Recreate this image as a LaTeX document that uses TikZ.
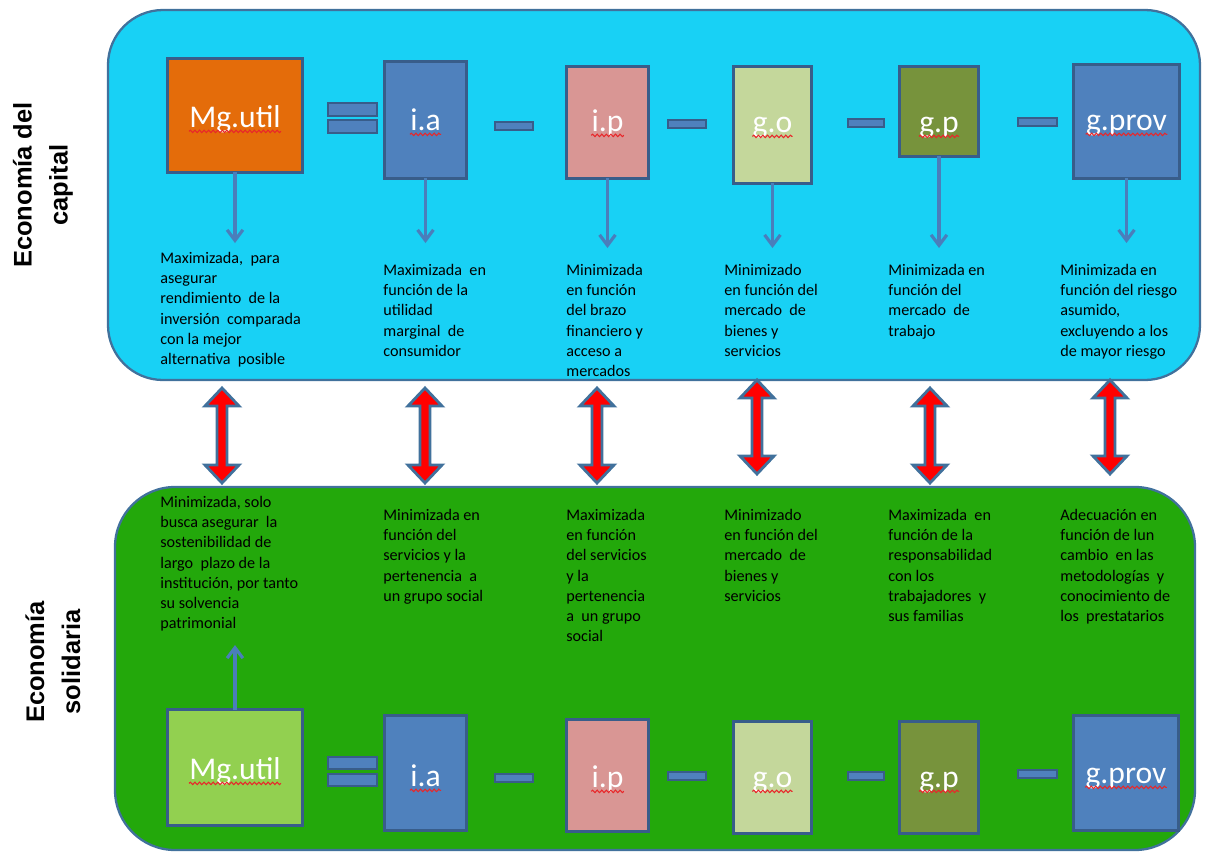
\documentclass[tikz,border=0pt]{standalone}
\usepackage{fontspec}
\setmainfont{Carlito}
\newfontfamily\sidefont{Liberation Sans}
\usetikzlibrary{arrows.meta,decorations.pathmorphing}

\definecolor{capfill}{HTML}{18D1F5}
\definecolor{solfill}{HTML}{23A80B}
\definecolor{panelline}{HTML}{41719C}
\definecolor{boxline}{HTML}{385D8A}
\definecolor{blueb}{HTML}{4F81BD}
\definecolor{orangeb}{HTML}{E46C0A}
\definecolor{pinkb}{HTML}{D99694}
\definecolor{paleb}{HTML}{C4D79B}
\definecolor{oliveb}{HTML}{77933C}
\definecolor{limeb}{HTML}{92D050}
\definecolor{connc}{HTML}{4A7EBB}
\definecolor{squigc}{HTML}{E8272A}

% two-headed red arrow between the panels: x, top y, bottom y
\newcommand\twoway[3]{%
  \draw[redarrow] (#1-5,#2+18) -- (#1-17,#2+18) -- (#1,#2) -- (#1+17,#2+18)
    -- (#1+5,#2+18) -- (#1+5,#3-18) -- (#1+17,#3-18) -- (#1,#3)
    -- (#1-17,#3-18) -- (#1-5,#3-18) -- cycle;}

\tikzset{
  panel/.style={draw=panelline, line width=1.3pt},
  box/.style={draw=boxline, line width=1.7pt, inner sep=0pt, outer sep=0pt},
  bar/.style={draw=boxline, fill=blueb, line width=1.2pt},
  lbl/.style={text=white, font=\fontsize{18}{20}\selectfont, inner sep=0pt, anchor=base},
  note/.style={align=left, anchor=north west, inner sep=0pt,
               font=\fontsize{9.2}{11.5}\selectfont},
  conn/.style={draw=connc, line width=1.8pt, -{Straight Barb[length=6pt,width=9pt]}},
  squig/.style={draw=squigc, line width=0.6pt, decorate,
                decoration={snake, amplitude=0.7pt, segment length=2.6pt}},
  redarrow/.style={fill=red, draw=panelline, line width=1.6pt, line join=miter},
  side/.style={font=\sidefont\bfseries\fontsize{14.5}{20.5}\selectfont,
               align=center, rotate=90, inner sep=0pt},
}

\begin{document}
\begin{tikzpicture}[x=0.02cm, y=-0.02cm]
\useasboundingbox (0,0) rectangle (1205,853);

% panels
\draw[panel, fill=capfill, rounded corners=1.1cm] (108,10) rectangle (1200,380);
\draw[panel, fill=solfill, rounded corners=1.2cm] (115,487) rectangle (1195,850);

% side titles
\node[side] (capL) at (43,185) {Economía del\\capital};
\node[side] (solL) at (53,662) {Economía\\solidaria};

% ---------------- upper row ----------------
\node[box, fill=orangeb, minimum width=2.7cm,  minimum height=2.28cm] (mgT) at (235,115.5) {};
\node[box, fill=blueb,   minimum width=1.64cm, minimum height=2.34cm] (iaT) at (425.5,120) {};
\node[box, fill=pinkb,   minimum width=1.64cm, minimum height=2.24cm] (ipT) at (607.5,122.5) {};
\node[box, fill=paleb,   minimum width=1.56cm, minimum height=2.34cm] (goT) at (772.5,125) {};
\node[box, fill=oliveb,  minimum width=1.58cm, minimum height=1.8cm]  (gpT) at (939,111.5) {};
\node[box, fill=blueb,   minimum width=2.12cm, minimum height=2.28cm] (gvT) at (1126.5,121.5) {};

\node[lbl] (mgTl) at (235,127) {Mg.util};
\node[lbl] (iaTl) at (425.5,130) {i.a};
\node[lbl] (ipTl) at (607.5,131) {i.p};
\node[lbl] (goTl) at (772.5,132) {g.o};
\node[lbl] (gpTl) at (939,132) {g.p};
\node[lbl] (gvTl) at (1126.5,130) {g.prov};
\foreach \n in {mgTl,iaTl,ipTl,goTl,gpTl,gvTl}
  \draw[squig] ([yshift=-2.5pt]\n.base west) -- ([yshift=-2.5pt]\n.base east);

% operators
\draw[bar] (328,103) rectangle (377,116);
\draw[bar] (328,120) rectangle (377,133);
\draw[bar] (495,122) rectangle (533,130);
\draw[bar] (668,120) rectangle (706,128);
\draw[bar] (848,119) rectangle (884,127);
\draw[bar] (1018,118) rectangle (1057,126);

% pointers to the descriptions
\coordinate (mgTe) at (235,243);
\coordinate (iaTe) at (425.5,243);
\coordinate (ipTe) at (607.5,248);
\coordinate (goTe) at (772.5,248);
\coordinate (gpTe) at (939,248);
\coordinate (gvTe) at (1126.5,243);
\foreach \n in {mgT,iaT,ipT,goT,gpT,gvT}
  \draw[conn] (\n.south) -- (\n e);

\node[note] (tx1) at (160,252) {Maximizada,\ \ para\\asegurar\\rendimiento\ \ de la\\inversión\ \ comparada\\con la mejor\\alternativa\ \ posible};
\node[note] (tx2) at (383,264) {Maximizada\ \ en\\función de la\\utilidad\\marginal\ \ de\\consumidor};
\node[note] (tx3) at (566,264) {Minimizada\\en función\\del brazo\\financiero y\\acceso a\\mercados};
\node[note] (tx4) at (724,264) {Minimizado\\en función del\\mercado\ \ de\\bienes y\\servicios};
\node[note] (tx5) at (888,264) {Minimizada en\\función del\\mercado\ \ de\\trabajo};
\node[note] (tx6) at (1060,264) {Minimizada en\\función del riesgo\\asumido,\\excluyendo a los\\de mayor riesgo};

% ---------------- links between the panels ----------------
\twoway{222}{388}{483}
\twoway{425}{388}{483}
\twoway{597}{388}{483}
\twoway{757}{380}{474}
\twoway{930}{388}{483}
\twoway{1110}{380}{474}

% ---------------- lower row ----------------
\node[note] (bx1) at (160,496) {Minimizada, solo\\busca asegurar\ \ la\\sostenibilidad de\\largo\ \ plazo de la\\institución, por tanto\\su solvencia\\patrimonial};
\node[note] (bx2) at (383,509) {Minimizada en\\función del\\servicios y la\\pertenencia\ \ a\\un grupo social};
\node[note] (bx3) at (566,509) {Maximizada\\en función\\del servicios\\y la\\pertenencia\\a\ \ un grupo\\social};
\node[note] (bx4) at (724,509) {Minimizado\\en función del\\mercado\ \ de\\bienes y\\servicios};
\node[note] (bx5) at (888,509) {Maximizada\ \ en\\función de la\\responsabilidad\\con los\\trabajadores\ \ y\\sus familias};
\node[note] (bx6) at (1060,509) {Adecuación en\\función de lun\\cambio\ \ en las\\metodologías\ \ y\\conocimiento de\\los\ \ prestatarios};

\node[box, fill=limeb,  minimum width=2.7cm,  minimum height=2.32cm] (mgB) at (235,767.5) {};
\node[box, fill=blueb,  minimum width=1.64cm, minimum height=2.3cm]  (iaB) at (425.5,773) {};
\node[box, fill=pinkb,  minimum width=1.64cm, minimum height=2.24cm] (ipB) at (607.5,775.5) {};
\node[box, fill=paleb,  minimum width=1.56cm, minimum height=2.24cm] (goB) at (772.5,777.5) {};
\node[box, fill=oliveb, minimum width=1.58cm, minimum height=2.24cm] (gpB) at (939,777.5) {};
\node[box, fill=blueb,  minimum width=2.1cm,  minimum height=2.3cm]  (gvB) at (1126,773) {};

\node[lbl] (mgBl) at (235,779) {Mg.util};
\node[lbl] (iaBl) at (425.5,786) {i.a};
\node[lbl] (ipBl) at (607.5,787) {i.p};
\node[lbl] (goBl) at (772.5,787) {g.o};
\node[lbl] (gpBl) at (939,787) {g.p};
\node[lbl] (gvBl) at (1126,783) {g.prov};
\foreach \n in {mgBl,iaBl,ipBl,goBl,gpBl,gvBl}
  \draw[squig] ([yshift=-2.5pt]\n.base west) -- ([yshift=-2.5pt]\n.base east);

\draw[bar] (328,757) rectangle (377,769);
\draw[bar] (328,774) rectangle (377,786);
\draw[bar] (495,774) rectangle (533,782);
\draw[bar] (668,772) rectangle (706,780);
\draw[bar] (848,772) rectangle (884,780);
\draw[bar] (1018,770) rectangle (1057,778);

\coordinate (mgBe) at (235,645);
\draw[conn] (mgB.north) -- (mgBe);
\end{tikzpicture}
\end{document}
